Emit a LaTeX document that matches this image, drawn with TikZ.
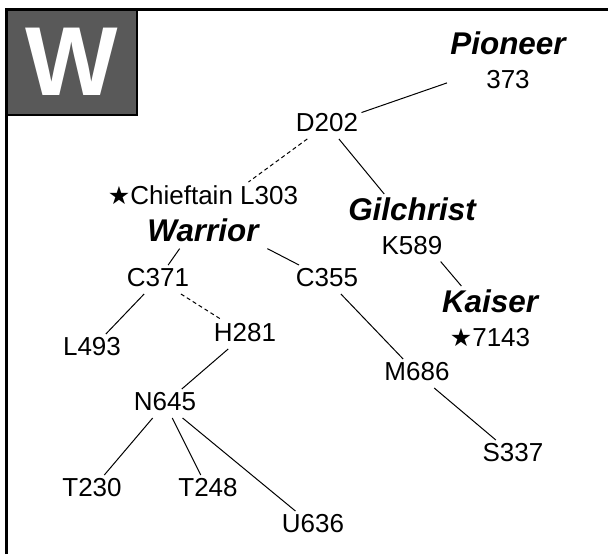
\documentclass[tikz,border=0pt]{standalone}
\usepackage{fontspec}
\setmainfont{Liberation Sans}
\newfontfamily\starfont{DejaVu Sans}
\usepackage{tikz}

\definecolor{tilegray}{gray}{0.35}
\newcommand{\bname}[1]{{\fontsize{15.7}{17}\selectfont\bfseries\itshape #1}}
\newcommand{\bstar}{{\starfont\fontsize{12.5}{12.5}\selectfont ★}}
\newcommand{\lastdp}{\rule[-2pt]{0pt}{0pt}}

\begin{document}
\begin{tikzpicture}[
    x=0.5pt, y=-0.5pt,
    frame/.style={black, line width=1.5pt},
    tile/.style={draw=black, line width=1pt, fill=tilegray, text=white,
        font=\fontsize{49}{49}\selectfont\bfseries,
        minimum width=65pt, minimum height=52.5pt, inner sep=0pt},
    num/.style={anchor=north, inner sep=1.5pt, text depth=2pt, font=\fontsize{13}{17}\selectfont},
    named/.style={anchor=north, inner sep=1.5pt, align=center, font=\fontsize{13}{17}\selectfont},
    link/.style={black, line width=0.5pt},
    weak/.style={link, dash pattern=on 2pt off 1.5pt}
]
\useasboundingbox (0,0) rectangle (608,554);

% tile and frame
\node[tile] (tile) at (71.5,62) {W};
\draw[frame] (6.5,554) -- (6.5,9.5) -- (608,9.5);

% named animals
\node[named] (pioneer) at (508,28) {\bname{Pioneer}\\373\lastdp};
\node[named] (chieftain) at (203,182) {\bstar Chieftain L303\\[1.5pt]\bname{Warrior}\lastdp};
\node[named] (gilchrist) at (412,194) {\bname{Gilchrist}\\K589\lastdp};
\node[named] (kaiser) at (490,286) {\bname{Kaiser}\\\bstar7143\lastdp};

% numbered animals
\node[num] (d202) at (327,110) {D202};
\node[num] (c371) at (158,265) {C371};
\node[num] (c355) at (327,265) {C355};
\node[num] (l493) at (92,334) {L493};
\node[num] (h281) at (245,320) {H281};
\node[num] (m686) at (417,359) {M686};
\node[num] (n645) at (165,389) {N645};
\node[num] (s337) at (513,440) {S337};
\node[num] (t230) at (92,475) {T230};
\node[num] (t248) at (208,475) {T248};
\node[num] (u636) at (313,511) {U636};

% lines of descent
\foreach \a/\b in {pioneer/d202, d202/gilchrist, chieftain/c371, chieftain/c355,
    gilchrist/kaiser, c371/l493, c355/m686, h281/n645, m686/s337,
    n645/t230, n645/t248, n645/u636}
    \draw[link] (\a) -- (\b);
\draw[weak] (d202) -- (chieftain);
\draw[weak] (c371) -- (h281);

\end{tikzpicture}
\end{document}
